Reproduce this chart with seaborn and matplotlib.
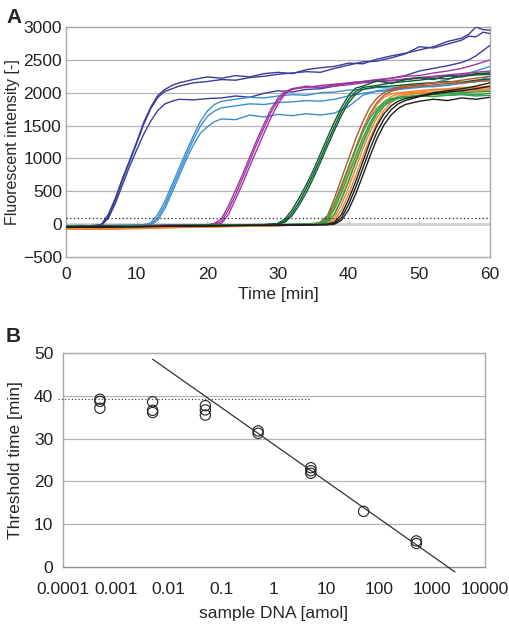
import numpy as np
import pandas as pd
import matplotlib
matplotlib.use("Agg")
import matplotlib.pyplot as plt
import seaborn as sns

# ---- panel A: fluorescence curves ----
t_ind = [0, 2, 4, 5, 6, 7, 8, 9, 10, 11, 12, 13, 14, 15, 16, 18, 20, 22, 24, 26, 28, 30,
         32, 34, 36, 38, 40, 42, 44, 46, 48, 50, 52, 54, 56, 57, 58, 59, 60]
ind_1 = [-30, -20, -25, -5, 150, 400, 700, 970, 1250, 1550, 1780, 1960, 2050, 2110, 2150, 2200,
         2240, 2220, 2260, 2240, 2290, 2310, 2290, 2350, 2380, 2400, 2450, 2440, 2510, 2560,
         2600, 2650, 2700, 2780, 2830, 2890, 3000, 2960, 2950]
ind_2 = [-40, -30, -20, -10, 120, 370, 670, 950, 1230, 1520, 1760, 1930, 2020, 2060, 2100, 2150,
         2170, 2200, 2190, 2230, 2250, 2280, 2300, 2320, 2310, 2370, 2420, 2470, 2480, 2530,
         2590, 2700, 2680, 2740, 2800, 2860, 2850, 2920, 2900]
ind_3 = [-40, -35, -30, -20, 90, 320, 600, 880, 1130, 1370, 1570, 1730, 1830, 1870, 1900, 1890,
         1910, 1920, 1950, 1930, 1990, 2030, 2010, 2050, 2060, 2100, 2150, 2170, 2190, 2220,
         2260, 2330, 2370, 2410, 2460, 2500, 2560, 2640, 2720]

t_lb = [0, 4, 8, 11, 12, 13, 14, 15, 16, 17, 18, 19, 20, 21, 22, 24, 26, 28, 30, 32, 34, 36,
        38, 40, 42, 44, 46, 48, 50, 52, 54, 56, 58, 60]
lb_1 = [-20, -25, -15, -10, 20, 150, 350, 600, 850, 1100, 1340, 1560, 1720, 1820, 1870, 1900,
        1930, 1920, 1950, 1970, 1960, 2000, 2010, 2040, 2050, 2080, 2070, 2100, 2130, 2150,
        2200, 2270, 2330, 2400]
lb_2 = [-30, -30, -20, -20, 0, 100, 290, 540, 790, 1040, 1280, 1490, 1640, 1720, 1770, 1800,
        1830, 1820, 1850, 1860, 1880, 1870, 1900, 1950, 1990, 2020, 2030, 2060, 2080, 2100,
        2110, 2150, 2170, 2250]
lb_3 = [-30, -35, -25, -20, -10, 60, 240, 480, 730, 980, 1200, 1380, 1480, 1560, 1600, 1590,
        1660, 1630, 1670, 1650, 1680, 1660, 1690, 1790, 1960, 2030, 2050, 2070, 2100, 2090,
        2120, 2140, 2170, 2200]

t_pu = [0, 5, 10, 15, 20, 21, 22, 23, 24, 25, 26, 27, 28, 29, 30, 31, 32, 34, 36, 38, 40, 42,
        44, 46, 48, 50, 52, 54, 56, 58, 60]
pu_1 = [-30, -20, -25, -10, -10, 10, 80, 280, 520, 760, 1020, 1280, 1520, 1750, 1920, 2020,
        2060, 2080, 2110, 2130, 2150, 2170, 2200, 2220, 2250, 2260, 2300, 2330, 2370, 2430, 2500]
pu_2 = [-40, -30, -20, -20, -15, 0, 40, 220, 450, 700, 960, 1220, 1460, 1700, 1880, 2000,
        2050, 2090, 2080, 2120, 2140, 2160, 2180, 2190, 2210, 2230, 2250, 2270, 2290, 2310, 2330]
pu_3 = [-40, -35, -30, -20, -20, -10, 10, 150, 380, 620, 880, 1130, 1380, 1620, 1830, 1980,
        2060, 2100, 2080, 2100, 2120, 2150, 2170, 2180, 2200, 2220, 2240, 2250, 2270, 2280, 2300]

t_dg = [0, 5, 10, 15, 20, 25, 28, 30, 31, 32, 33, 34, 35, 36, 37, 38, 39, 40, 41, 42, 44, 46,
        48, 50, 52, 54, 56, 58, 60]
dg_1 = [-40, -30, -30, -20, -20, -10, -5, 10, 80, 220, 400, 600, 820, 1070, 1320, 1560, 1780,
        1960, 2070, 2100, 2180, 2140, 2200, 2230, 2200, 2260, 2240, 2290, 2300]
dg_2 = [-30, -40, -25, -25, -15, -15, -10, 0, 50, 170, 340, 540, 760, 1000, 1250, 1490, 1720,
        1900, 2020, 2080, 2110, 2150, 2170, 2190, 2220, 2210, 2250, 2270, 2280]
dg_3 = [-50, -35, -30, -25, -20, -15, -10, -5, 30, 130, 290, 480, 700, 940, 1190, 1430, 1660,
        1850, 1980, 2050, 2090, 2100, 2120, 2140, 2150, 2170, 2160, 2190, 2210]

t_late = [0, 5, 10, 15, 20, 25, 30, 33, 35, 36, 37, 38, 39, 40, 41, 42, 43, 44, 45, 46, 47, 48,
          50, 52, 54, 56, 58, 60]
brown_1 = [-50, -60, -50, -40, -30, -20, -10, 0, 10, 30, 130, 400, 700, 1000, 1300, 1560, 1780,
           1920, 2000, 2050, 2080, 2100, 2120, 2150, 2160, 2190, 2220, 2250]
brown_2 = [-60, -50, -55, -40, -30, -25, -15, -10, 0, 20, 80, 280, 560, 860, 1160, 1440, 1680,
           1850, 1960, 2020, 2060, 2080, 2100, 2120, 2140, 2150, 2170, 2180]
orange_1 = [-70, -80, -60, -50, -40, -30, -20, -10, 0, 10, 60, 250, 520, 820, 1120, 1400, 1640,
            1820, 1930, 1980, 2000, 2010, 2030, 2050, 2060, 2080, 2080, 2100]
orange_2 = [-80, -70, -70, -50, -40, -35, -25, -15, -5, 0, 40, 160, 400, 680, 980, 1260, 1510,
            1720, 1860, 1940, 1980, 2000, 2010, 2040, 2050, 2060, 2070, 2080]
orange_3 = [-70, -75, -65, -55, -45, -30, -20, -10, -5, 0, 20, 100, 300, 560, 850, 1140, 1400,
            1620, 1790, 1890, 1950, 1980, 2000, 2010, 2030, 2040, 2050, 2060]
orange_4 = [-60, -70, -60, -45, -35, -25, -20, -10, -5, 0, 10, 60, 220, 460, 740, 1030, 1300,
            1540, 1730, 1850, 1920, 1960, 1990, 2000, 2010, 2020, 2030, 2040]
green_1 = [-40, -30, -35, -25, -20, -15, -10, -5, 0, 20, 110, 330, 600, 880, 1150, 1400, 1610,
           1760, 1860, 1910, 1930, 1940, 1960, 1970, 1960, 1980, 1970, 1990]
green_2 = [-30, -40, -30, -20, -20, -10, -10, 0, 0, 10, 60, 230, 480, 760, 1040, 1310, 1540,
           1720, 1830, 1890, 1920, 1930, 1950, 1940, 1960, 1970, 1950, 1960]
green_3 = [-40, -30, -30, -25, -20, -15, -10, -5, -5, 0, 30, 150, 380, 650, 940, 1220, 1470,
           1680, 1800, 1870, 1910, 1930, 1960, 1980, 1990, 2000, 2010, 2020]
black_1 = [-40, -30, -40, -30, -20, -20, -15, -10, -10, -5, 0, 30, 150, 380, 650, 950, 1250,
           1500, 1680, 1800, 1870, 1910, 1950, 2000, 2030, 2060, 2100, 2150]
black_2 = [-50, -40, -40, -30, -30, -20, -15, -15, -10, -10, -5, 10, 100, 300, 560, 850, 1140,
           1400, 1600, 1740, 1830, 1880, 1940, 1980, 2010, 2030, 2060, 2100]
black_3 = [-40, -50, -35, -30, -25, -20, -20, -15, -10, -10, -10, 0, 60, 220, 460, 740, 1030,
           1300, 1510, 1660, 1760, 1820, 1870, 1900, 1880, 1920, 1900, 1930]

threshold_a = 100

# ---- panel B: threshold time vs sample DNA ----
dna_amol = [0.0005, 0.0005, 0.0005, 0.005, 0.005, 0.005, 0.05, 0.05, 0.05,
            0.5, 0.5, 5, 5, 5, 50, 500, 500]
threshold_time = [39.2, 38.7, 37.1, 38.6, 36.6, 36.1, 37.7, 36.7, 35.5,
                  31.8, 31.25, 23.2, 22.5, 21.9, 13.0, 6.1, 5.5]
fit_slope = -8.67       # min per decade
fit_intercept = 28.6    # min at 1 amol
fit_range = [0.005, 2700]
threshold_b = 39.2
threshold_b_range = [0.00008, 5]

x_ticks_b = [1e-4, 1e-3, 1e-2, 1e-1, 1, 10, 100, 1000, 10000]
x_labels_b = ["0.0001", "0.001", "0.01", "0.1", "1", "10", "100", "1000", "10000"]

# colours per group
c_ind, c_lb, c_pu, c_dg = "#3b3c98", "#3a8fd0", "#a0369f", "#0b5a30"
c_orange, c_brown, c_green, c_black = "#ec8633", "#b45a2a", "#2ba24a", "#1e1e1e"

curves = [
    (t_ind, ind_1, c_ind), (t_ind, ind_2, c_ind), (t_ind, ind_3, c_ind),
    (t_lb, lb_1, c_lb), (t_lb, lb_2, c_lb), (t_lb, lb_3, c_lb),
    (t_pu, pu_1, c_pu), (t_pu, pu_2, c_pu), (t_pu, pu_3, c_pu),
    (t_dg, dg_1, c_dg), (t_dg, dg_2, c_dg), (t_dg, dg_3, c_dg),
    (t_late, brown_1, c_brown), (t_late, brown_2, c_brown),
    (t_late, orange_1, c_orange), (t_late, orange_2, c_orange),
    (t_late, orange_3, c_orange), (t_late, orange_4, c_orange),
    (t_late, green_1, c_green), (t_late, green_2, c_green), (t_late, green_3, c_green),
    (t_late, black_1, c_black), (t_late, black_2, c_black), (t_late, black_3, c_black),
]

sns.set_style("white")
plt.rcParams["font.family"] = ["Liberation Sans", "DejaVu Sans"]
plt.rcParams["font.size"] = 12.5

fig = plt.figure(figsize=(5.09, 6.26), dpi=100)
ax_a = fig.add_axes([0.1297, 0.5895, 0.8330, 0.3674])
ax_b = fig.add_axes([0.1238, 0.0942, 0.8290, 0.3419])

grid_c = "#b4b4b4"
frame_c = "#a8a8a8"
text_c = "#222222"

# ---- panel A ----
for t, v, col in curves:
    df = pd.DataFrame({"t": t, "v": v})
    sns.lineplot(data=df, x="t", y="v", ax=ax_a, color=col, lw=1.0,
                 estimator=None, sort=False, zorder=3)

ax_a.set_xlim(0, 60)
ax_a.set_ylim(-500, 3000)
ax_a.set_xticks(range(0, 61, 10))
ax_a.set_yticks(range(-500, 3001, 500))
for y in range(500, 3000, 500):
    ax_a.axhline(y, color=grid_c, lw=0.9, zorder=1)
ax_a.axhline(0, color="#cfcfcf", lw=2.0, zorder=1)
ax_a.vlines(range(10, 60, 10), 0, 45, color="#bdbdbd", lw=0.9, zorder=1)
ax_a.plot([0, 60], [threshold_a, threshold_a], color=text_c, lw=0.9,
          ls=(0, (1, 2)), zorder=4)
ax_a.set_xlabel("Time [min]", labelpad=4, fontsize=12.5)
ax_a.set_ylabel("Fluorescent intensity [-]", labelpad=2, fontsize=11.5)
ax_a.tick_params(axis="x", length=0, pad=7, labelsize=12.5, colors=text_c)
ax_a.tick_params(axis="y", length=0, pad=3, labelsize=12.5, colors=text_c)

# ---- panel B ----
dfb = pd.DataFrame({"dna": dna_amol, "tt": threshold_time})
sns.scatterplot(data=dfb, x="dna", y="tt", ax=ax_b, marker="o", s=55,
                facecolor="none", edgecolor=text_c, linewidth=0.8, zorder=4)
fit_x = np.array(fit_range)
fit_y = fit_intercept + fit_slope * np.log10(fit_x)
ax_b.plot(fit_x, fit_y, color="#333333", lw=0.9, zorder=3, clip_on=False)
ax_b.plot(threshold_b_range, [threshold_b, threshold_b], color="#333333", lw=0.8,
          ls=(0, (1, 2)), zorder=3, clip_on=False)

ax_b.set_xscale("log")
ax_b.set_xlim(1e-4, 1e4)
ax_b.set_ylim(0, 50)
ax_b.set_xticks(x_ticks_b)
ax_b.set_xticklabels(x_labels_b)
ax_b.xaxis.set_minor_locator(matplotlib.ticker.NullLocator())
ax_b.set_yticks(range(0, 51, 10))
for y in range(10, 50, 10):
    ax_b.axhline(y, color=grid_c, lw=0.9, zorder=1)
ax_b.set_xlabel("sample DNA [amol]", labelpad=6, fontsize=12.5)
ax_b.set_ylabel("Threshold time [min]", labelpad=8, fontsize=12.5)
ax_b.tick_params(axis="y", length=0, pad=7, labelsize=12.5, colors=text_c)
ax_b.tick_params(axis="x", length=3, width=0.8, color=frame_c, pad=8,
                 labelsize=12.5, labelcolor=text_c)

for ax in (ax_a, ax_b):
    for s in ax.spines.values():
        s.set_color(frame_c)
        s.set_linewidth(1.0)
        s.set_visible(True)
ax_b.spines["bottom"].set_color("#909090")

fig.text(0.012, 0.972, "A", fontsize=15, fontweight="bold", ha="left", va="center")
fig.text(0.012, 0.463, "B", fontsize=15, fontweight="bold", ha="left", va="center")

fig.savefig("out.png", dpi=100)
